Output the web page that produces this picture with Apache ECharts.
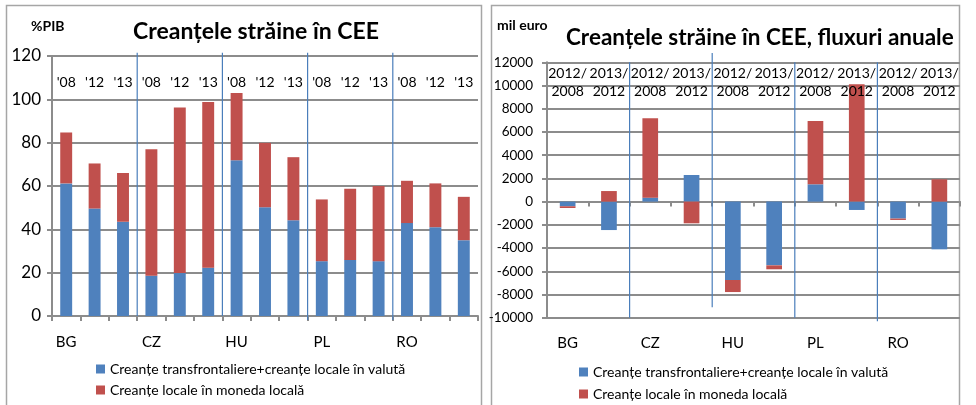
<!DOCTYPE html>
<html><head><meta charset="utf-8">
<script src="https://cdn.jsdelivr.net/npm/echarts@6/dist/echarts.min.js"></script>
<style>html,body{margin:0;padding:0;background:#fff}#c{width:976px;height:405px}</style>
</head><body><div id="c"></div>
<script>
const countries = ['BG','CZ','HU','PL','RO'];
const stockYears = ["'08","'12","'13"];
const stockFx = [61.2,49.6,43.5, 18.6,19.8,22.3, 71.9,50.2,44.2, 25.3,25.9,25.3, 42.9,41.0,35.0];
const stockLocal = [23.5,20.8,22.5, 58.4,76.4,76.5, 31.0,29.7,29.1, 28.5,32.8,34.7, 19.5,20.2,20.0];
const flowPeriods = ['2012/\n2008','2013/\n2012'];
const flowFx = [-400,-2450, 340,2290, -6750,-5490, 1490,-720, -1460,-4110];
const flowLocal = [-150,910, 6830,-1870, -1040,-340, 5450,10100, -120,1920];
const seriesNames = ['Creanțe transfrontaliere+creanțe locale în valută','Creanțe locale în moneda locală'];
const stockTitle = 'Creanțele străine în CEE';
const flowTitle = 'Creanțele străine în CEE, fluxuri anuale';

const FONT = 'Lato, "Open Sans", sans-serif';
const BLUE = '#4F81BD', RED = '#C0504D', GRID = '#8c8c8c', SEP = '#4a7ebb';

const stockCats = [], stockTop = [];
countries.forEach(c => stockYears.forEach(y => { stockCats.push(c + y); stockTop.push(y); }));
const flowCats = [], flowTop = [];
countries.forEach(c => flowPeriods.forEach(p => { flowCats.push(c + p); flowTop.push(p); }));
// group boundaries (in category units) between countries
const stockBounds = countries.slice(1).map((c, i) => (i + 1) * stockYears.length);
const flowBounds = countries.slice(1).map((c, i) => (i + 1) * flowPeriods.length);

const chart = echarts.init(document.getElementById('c'), null, {renderer:'canvas'});
const lineStyle = {color: GRID, width: 2};

// separator lines between country groups, drawn through hidden value x-axes
const sepSeries = (bounds, xIdx, yIdx, ext) => bounds.map((b, i) => ({
  type: 'line', xAxisIndex: xIdx, yAxisIndex: yIdx, silent: true, clip: false,
  symbol: 'none', lineStyle: {color: SEP, width: 1.2}, z: 4,
  data: [[b, ext[i][0]], [b, ext[i][1]]]
}));

chart.setOption({
  animation: false,
  textStyle: {fontFamily: FONT, color: '#000'},
  graphic: [
    {type:'rect', shape:{x:6.5,y:5.5,width:475,height:410}, style:{fill:'none', stroke:'#a6a6a6', lineWidth:1.5}, silent:true},
    {type:'rect', shape:{x:491.5,y:5.5,width:468,height:410}, style:{fill:'none', stroke:'#a6a6a6', lineWidth:1.5}, silent:true}
  ],
  title: [
    {text: stockTitle, left: 128, top: 15, textStyle:{fontFamily: FONT, fontSize: 23, fontWeight:'bold', color:'#000'}},
    {text: '%PIB', left: 26, top: 14, textStyle:{fontFamily: FONT, fontSize: 14, fontWeight:'bold', color:'#000'}},
    {text: flowTitle, left: 561, top: 21, textStyle:{fontFamily: FONT, fontSize: 22.5, fontWeight:'bold', color:'#000'}},
    {text: 'mil euro', left: 492, top: 13, textStyle:{fontFamily: FONT, fontSize: 14, fontWeight:'bold', color:'#000'}}
  ],
  legend: [
    {orient:'vertical', left: 96, top: 362, padding: 0, itemWidth: 9, itemHeight: 9, itemGap: 7, icon:'rect',
     data: seriesNames, textStyle:{fontFamily: FONT, fontSize: 14, lineHeight: 14, color:'#000'}, selectedMode:false},
    {orient:'vertical', left: 579, top: 365, padding: 0, itemWidth: 9, itemHeight: 9, itemGap: 8, icon:'rect',
     data: seriesNames, textStyle:{fontFamily: FONT, fontSize: 14, lineHeight: 14, color:'#000'}, selectedMode:false}
  ],
  grid: [
    {left: 52, right: 498, top: 56, bottom: 89, containLabel:false},
    {left: 547, right: 16, top: 62.3, bottom: 87.3, containLabel:false}
  ],
  xAxis: [
    {type:'category', gridIndex:0, position:'bottom', data: stockCats,
     axisLine:{lineStyle}, axisTick:{show:true, interval:0, length:5, lineStyle},
     axisLabel:{interval:0, margin: 19, fontSize: 15, color:'#000',
       formatter:(v,i)=> i % stockYears.length === 0 ? countries[i/stockYears.length] : ''},
     splitLine:{show:false}},
    {type:'category', gridIndex:0, position:'top', data: stockTop, zlevel: 1,
     axisLine:{show:false}, axisTick:{show:false},
     axisLabel:{inside:true, interval:0, margin: 19, fontSize: 14, color:'#000'}},
    {type:'category', gridIndex:1, position:'bottom', data: flowCats,
     axisLine:{onZero:true, lineStyle}, axisTick:{show:true, interval:0, length:5, lineStyle},
     axisLabel:{show:false}, splitLine:{show:false}},
    {type:'category', gridIndex:1, position:'bottom', data: flowCats,
     axisLine:{show:false, onZero:false}, axisTick:{show:false},
     axisLabel:{interval:0, margin: 18, fontSize: 15, color:'#000',
       formatter:(v,i)=> i % flowPeriods.length === 0 ? countries[i/flowPeriods.length] : ''}},
    {type:'category', gridIndex:1, position:'top', data: flowTop, zlevel: 1,
     axisLine:{show:false}, axisTick:{show:false},
     axisLabel:{inside:true, interval:0, margin: 2, fontSize: 14, lineHeight: 18, color:'#000'}},
    {type:'value', gridIndex:0, min:0, max: stockCats.length, show:false},
    {type:'value', gridIndex:1, min:0, max: flowCats.length, show:false}
  ],
  yAxis: [
    {type:'value', gridIndex:0, min:0, max:120, interval:20,
     axisLine:{show:true, lineStyle}, axisTick:{show:true, length:5, lineStyle},
     axisLabel:{fontSize:17, color:'#000', margin: 11, formatter:(v)=> String(v)},
     splitLine:{lineStyle}},
    {type:'value', gridIndex:1, min:-10000, max:12000, interval:2000,
     axisLine:{show:true, onZero:false, lineStyle}, axisTick:{show:true, length:5, lineStyle},
     axisLabel:{fontSize:13.5, color:'#000', margin: 14, formatter:(v)=> String(v)},
     splitLine:{lineStyle}}
  ],
  series: [
    {name: seriesNames[0], type:'bar', xAxisIndex:0, yAxisIndex:0, stack:'s', data: stockFx, barWidth:'42%', itemStyle:{color:BLUE}},
    {name: seriesNames[1], type:'bar', xAxisIndex:0, yAxisIndex:0, stack:'s', data: stockLocal, barWidth:'42%', itemStyle:{color:RED}},
    {name: seriesNames[0], type:'bar', xAxisIndex:2, yAxisIndex:1, stack:'f', data: flowFx, barWidth:'38%', itemStyle:{color:BLUE}},
    {name: seriesNames[1], type:'bar', xAxisIndex:2, yAxisIndex:1, stack:'f', data: flowLocal, barWidth:'38%', itemStyle:{color:RED}},
    ...sepSeries(stockBounds, 5, 0, [[121.5, 0], [121.5, 0], [121.5, -1.8], [121.5, -1.8]]),
    ...sepSeries(flowBounds, 6, 1, [[12000, -10000], [12800, -9100], [12000, -10000], [12000, -10300]])
  ]
});
</script></body></html>
